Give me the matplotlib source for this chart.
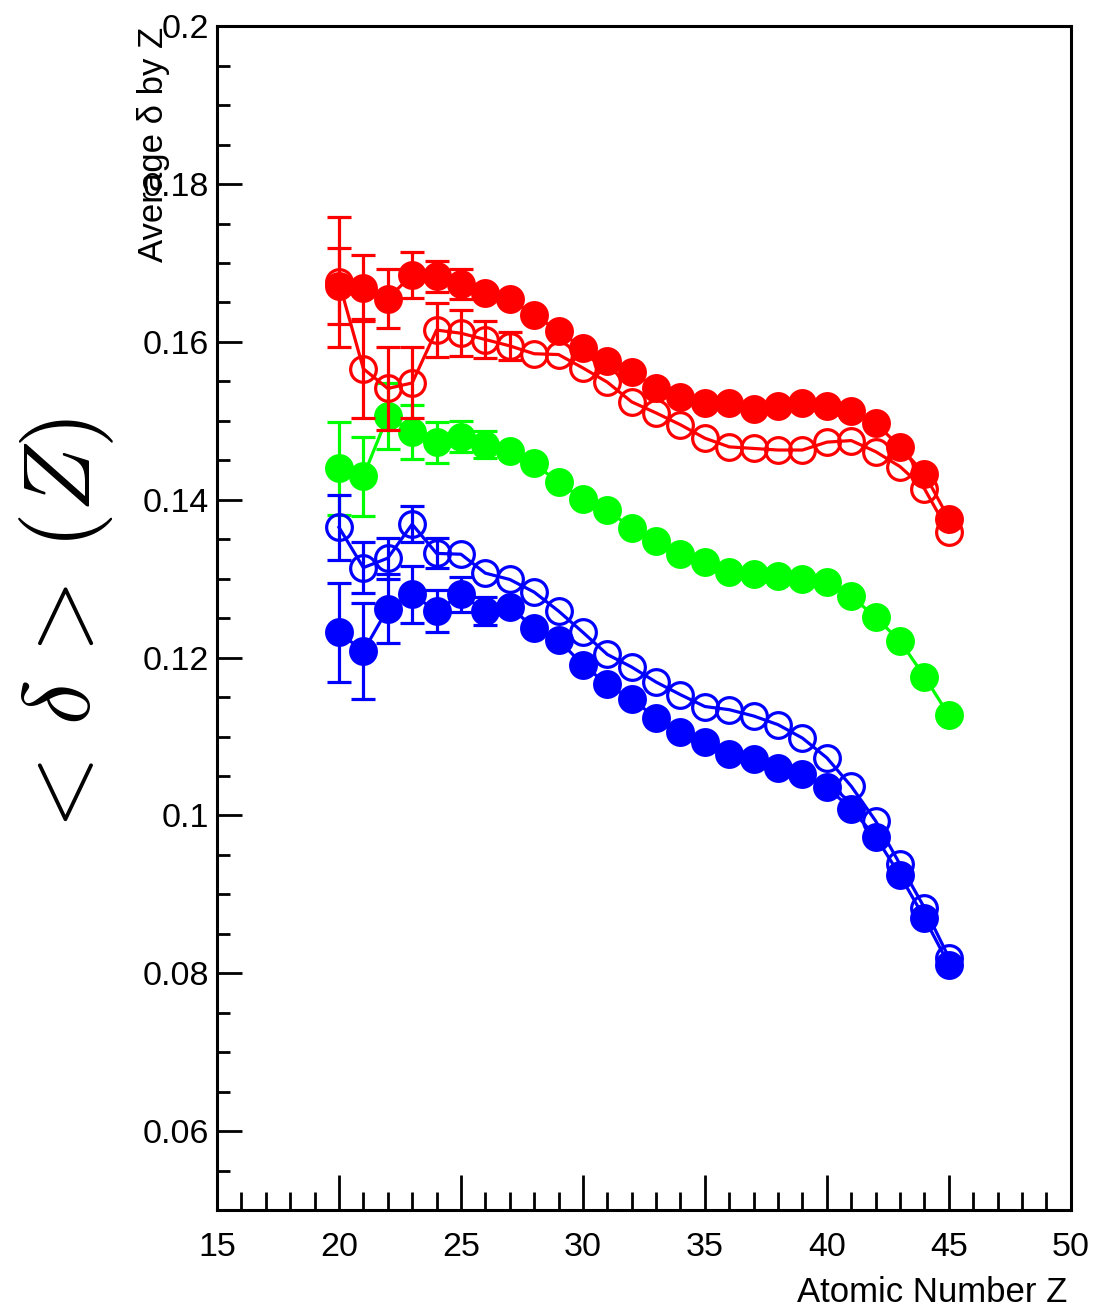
import matplotlib
matplotlib.use("Agg")
import matplotlib.pyplot as plt
import matplotlib.ticker as mticker

plt.rcParams["font.family"] = ["Liberation Sans", "DejaVu Sans"]
plt.rcParams["mathtext.fontset"] = "cm"

Z = list(range(20, 46))

# red, filled markers
red_full = [0.1671, 0.1668, 0.1655, 0.1685, 0.1683, 0.1674, 0.1662, 0.1654, 0.1634,
            0.1614, 0.1592, 0.1576, 0.1562, 0.1542, 0.1530, 0.1523, 0.1523, 0.1515,
            0.1519, 0.1522, 0.1519, 0.1513, 0.1497, 0.1467, 0.1433, 0.1376]
red_full_err = [0.0048, 0.0042, 0.0037, 0.0029, 0.0020, 0.0019, 0, 0, 0,
                0, 0, 0, 0, 0, 0, 0, 0, 0, 0, 0, 0, 0, 0, 0, 0, 0]

# red, open markers
red_open = [0.1676, 0.1566, 0.1541, 0.1548, 0.1615, 0.1611, 0.1603, 0.1595, 0.1585,
            0.1584, 0.1567, 0.1549, 0.1524, 0.1510, 0.1495, 0.1478, 0.1467, 0.1465,
            0.1463, 0.1463, 0.1473, 0.1475, 0.1461, 0.1442, 0.1414, 0.1359]
red_open_err = [0.0082, 0.0063, 0.0052, 0.0045, 0.0034, 0.0029, 0.0023, 0.0018, 0,
                0, 0, 0, 0, 0, 0, 0, 0, 0, 0, 0, 0, 0, 0, 0, 0, 0]

# green
green_full = [0.1440, 0.1430, 0.1506, 0.1486, 0.1473, 0.1480, 0.1470, 0.1462, 0.1446,
              0.1422, 0.1401, 0.1387, 0.1364, 0.1348, 0.1331, 0.1321, 0.1308, 0.1306,
              0.1304, 0.1299, 0.1296, 0.1278, 0.1251, 0.1221, 0.1176, 0.1127]
green_full_err = [0.0059, 0.0050, 0.0042, 0.0034, 0.0026, 0.0020, 0.0017, 0, 0,
                  0, 0, 0, 0, 0, 0, 0, 0, 0, 0, 0, 0, 0, 0, 0, 0, 0]

# blue, open markers
blue_open = [0.1365, 0.1314, 0.1326, 0.1369, 0.1332, 0.1331, 0.1307, 0.1299, 0.1283,
             0.1259, 0.1232, 0.1204, 0.1188, 0.1169, 0.1153, 0.1138, 0.1134, 0.1126,
             0.1115, 0.1098, 0.1073, 0.1037, 0.0993, 0.0938, 0.0883, 0.0820]
blue_open_err = [0.0041, 0.0032, 0.0026, 0.0023, 0.0019, 0, 0, 0, 0,
                 0, 0, 0, 0, 0, 0, 0, 0, 0, 0, 0, 0, 0, 0, 0, 0, 0]

# blue, filled markers
blue_full = [0.1232, 0.1208, 0.1262, 0.1280, 0.1259, 0.1280, 0.1259, 0.1264, 0.1238,
             0.1222, 0.1191, 0.1166, 0.1147, 0.1124, 0.1106, 0.1093, 0.1078, 0.1071,
             0.1060, 0.1053, 0.1036, 0.1008, 0.0973, 0.0924, 0.0870, 0.0811]
blue_full_err = [0.0063, 0.0061, 0.0044, 0.0036, 0.0027, 0.0022, 0.0018, 0, 0,
                 0, 0, 0, 0, 0, 0, 0, 0, 0, 0, 0, 0, 0, 0, 0, 0, 0]

RED, GREEN, BLUE = "#ff0000", "#00ff00", "#0000ff"

fig = plt.figure(figsize=(10.96, 13.11), dpi=100)
ax = fig.add_axes([0.198, 0.077, 0.779, 0.903])


def draw(ys, errs, colour, filled):
    # error bars only where they poke out of the marker
    ze = [z for z, e in zip(Z, errs) if e > 0]
    ye = [y for y, e in zip(ys, errs) if e > 0]
    ee = [e for e in errs if e > 0]
    ax.errorbar(ze, ye, yerr=ee, fmt="none", ecolor=colour, elinewidth=2.3,
                capsize=8.5, capthick=2.3)
    ax.plot(Z, ys, "o-", color=colour, lw=2.3, ms=18.5, mew=2.3, mec=colour,
            mfc=colour if filled else "none")


draw(green_full, green_full_err, GREEN, True)
draw(blue_open, blue_open_err, BLUE, False)
draw(blue_full, blue_full_err, BLUE, True)
draw(red_open, red_open_err, RED, False)
draw(red_full, red_full_err, RED, True)

ax.set_xlim(15, 50)
ax.set_ylim(0.05, 0.2)
ax.xaxis.set_major_locator(mticker.MultipleLocator(5))
ax.xaxis.set_minor_locator(mticker.MultipleLocator(1))
ax.yaxis.set_major_locator(mticker.FixedLocator([0.06, 0.08, 0.10, 0.12, 0.14, 0.16, 0.18, 0.20]))
ax.yaxis.set_minor_locator(mticker.MultipleLocator(0.005))
ax.yaxis.set_major_formatter(mticker.FuncFormatter(lambda v, p: f"{v:g}"))

ax.tick_params(axis="both", which="both", direction="in", width=2,
               top=False, right=False, labelsize=24.5)
ax.tick_params(axis="x", which="major", length=25, pad=16)
ax.tick_params(axis="x", which="minor", length=13)
ax.tick_params(axis="y", which="major", length=18, pad=6)
ax.tick_params(axis="y", which="minor", length=9)
for sp in ax.spines.values():
    sp.set_linewidth(2.2)

fig.text(1067 / 1096, 1 - 1293 / 1311, "Atomic Number Z", ha="right", va="center",
         fontsize=25)
fig.text(153 / 1096, 1 - 27 / 1311, "Average δ by Z", rotation=90, ha="center",
         va="top", fontsize=25)
fig.text(67 / 1096, 1 - 631 / 1311, r"$<\,\delta\,>\,(Z)$", rotation=90, ha="center",
         va="center", fontsize=68)

fig.savefig("out.png", dpi=100)
